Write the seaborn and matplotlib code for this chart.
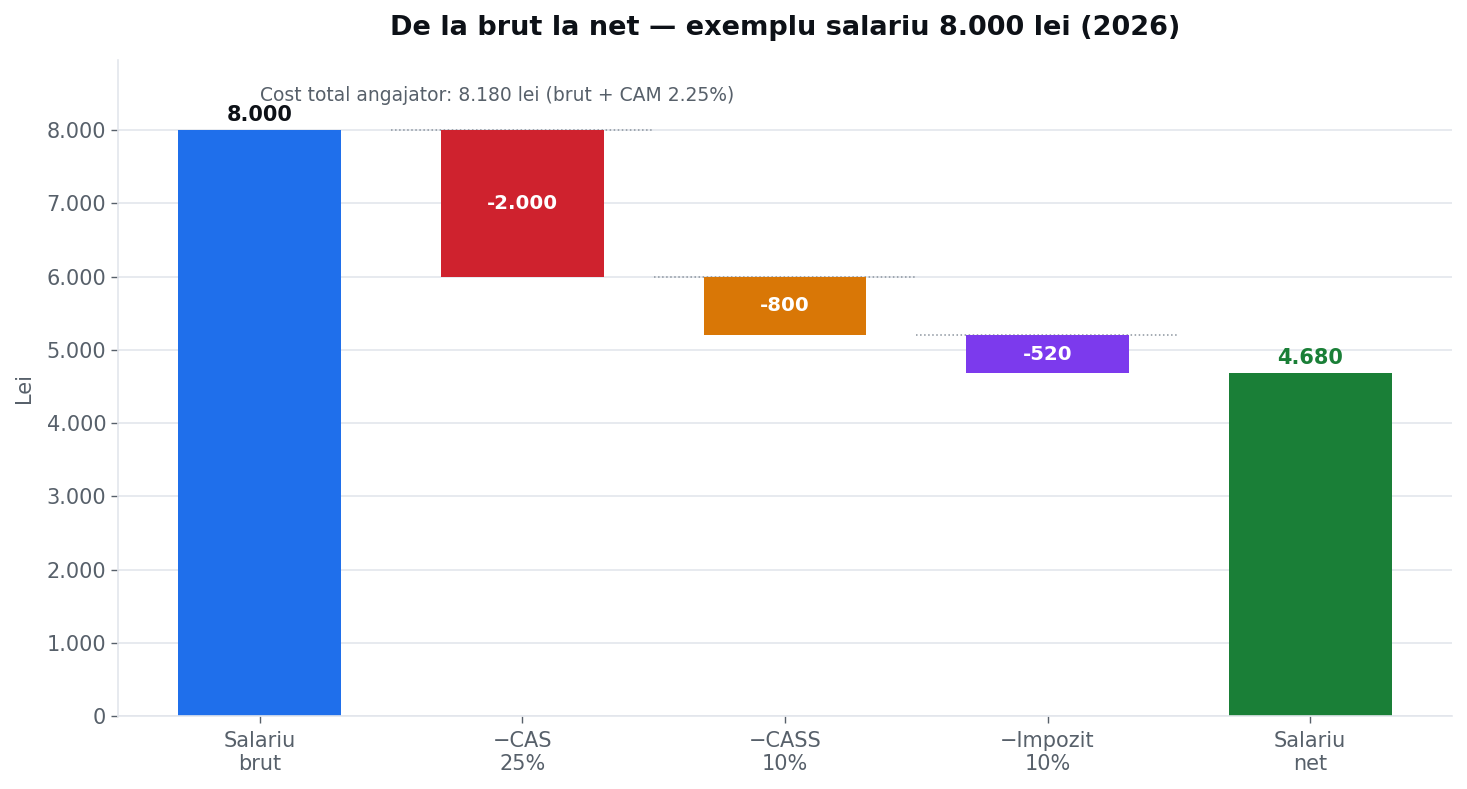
import numpy as np
import pandas as pd
import matplotlib
matplotlib.use("Agg")
import matplotlib.pyplot as plt
import seaborn as sns
from matplotlib.ticker import FuncFormatter

# data
steps = ["Salariu\nbrut", "\u2212CAS\n25%", "\u2212CASS\n10%", "\u2212Impozit\n10%", "Salariu\nnet"]
heights = [8000, 2000, 800, 520, 4680]
bottoms = [0, 6000, 5200, 4680, 0]
labels = ["8.000", "-2.000", "-800", "-520", "4.680"]
colors = ["#1f6feb", "#cf222e", "#d97706", "#7c3aed", "#1a7f37"]
note = "Cost total angajator: 8.180 lei (brut + CAM 2.25%)"

sns.set_theme(style="whitegrid")
plt.rcParams['font.family'] = ['DejaVu Sans']

df = pd.DataFrame({'step': steps, 'height': heights})

fig = plt.figure(figsize=(14.67, 7.89), dpi=100)
ax = fig.add_axes([0.0804, 0.0925, 0.9094, 0.8315])

sns.barplot(data=df, x='step', y='height', bottom=bottoms, width=0.62,
            color=colors[0], errorbar=None, ax=ax, zorder=2)
for p, c in zip(ax.patches, colors):
    p.set_facecolor(c)
    p.set_edgecolor('none')

# connectors
for i in range(1, 4):
    lvl = bottoms[i] + heights[i]
    ax.plot([i - 0.5, i + 0.5], [lvl, lvl], ls=':', color='#8b949e', lw=1.1, zorder=1.5)

# labels
for i, (b, h, t) in enumerate(zip(bottoms, heights, labels)):
    if i == 0 or i == len(steps) - 1:
        col = '#0d1117' if i == 0 else colors[i]
        ax.annotate(t, (i, b + h), xytext=(0, 3.5), textcoords='offset points',
                    ha='center', va='bottom', fontsize=15, fontweight='bold', color=col)
    else:
        ax.text(i, b + h / 2, t, ha='center', va='center', fontsize=14.2,
                fontweight='bold', color='white', zorder=3)

ax.text(0, 8480, note, ha='left', va='center', fontsize=13.5, color='#57606a')

ax.set_xlim(-0.54, 4.54)
ax.set_ylim(0, 8960)
ax.yaxis.set_major_formatter(FuncFormatter(lambda v, _: f"{int(v):,}".replace(",", ".")))
ax.set_xlabel("")
ax.set_ylabel("Lei", fontsize=15, color='#57606a', labelpad=9)
ax.set_title("De la brut la net \u2014 exemplu salariu 8.000 lei (2026)",
             fontsize=19.5, fontweight='bold', color='#0d1117', pad=18)

ax.grid(axis='x', visible=False)
ax.grid(axis='y', color='#e3e6ec', lw=1.2)
ax.set_axisbelow(True)
for s in ['top', 'right']:
    ax.spines[s].set_visible(False)
for s in ['left', 'bottom']:
    ax.spines[s].set_color('#e3e6ec')
    ax.spines[s].set_linewidth(1.2)
ax.tick_params(axis='both', colors='#57606a', labelsize=15, length=5, width=1, bottom=True, left=True)
ax.tick_params(axis='x', pad=6)

fig.savefig("out.png", dpi=100)
